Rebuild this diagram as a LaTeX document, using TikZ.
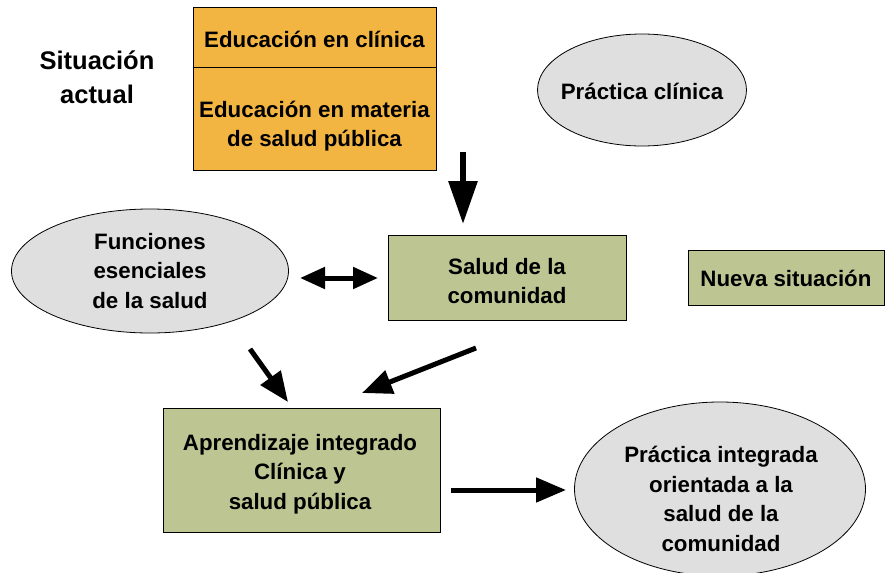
\documentclass[tikz,border=0pt]{standalone}
\usepackage{fontspec}
\setmainfont{Liberation Sans}
\usetikzlibrary{arrows.meta,shapes.geometric}
\definecolor{orangebox}{HTML}{F3B541}
\definecolor{greenbox}{HTML}{BDC593}
\definecolor{grayell}{HTML}{E0DFDF}
\tikzset{
  txt/.style={font=\fontsize{22.3}{29.5}\selectfont\bfseries, align=center, inner sep=0pt},
  greenrect/.style={draw=black, line width=0.8pt, fill=greenbox, inner sep=0pt},
  grayellipse/.style={draw=black, line width=0.8pt, fill=grayell, ellipse, inner sep=0pt},
  bigarrow/.style={line width=6pt, -{Triangle[length=43pt,width=28pt]}},
  midarrow/.style={line width=5pt, -{Triangle[length=30pt,width=24pt]}},
  dblarrow/.style={line width=5pt, {Triangle[length=25pt,width=21pt]}-{Triangle[length=25pt,width=21pt]}},
}
\begin{document}
\begin{tikzpicture}[x=1pt,y=-1pt]
\useasboundingbox (0,0) rectangle (889,573);
% Situacion actual
\node[txt, font=\fontsize{25.5}{34}\selectfont\bfseries] (sit) at (97,77) {Situación\\actual};
% orange box
\node[draw=black, line width=0.8pt, fill=orangebox, minimum width=243pt, minimum height=163pt, inner sep=0pt] (edu) at (314.5,88.5) {};
\draw[line width=0.8pt] (edu.west |- 0,67) coordinate (divl) -- (edu.east |- 0,67) coordinate (divr);
\node[txt] (educ) at (314.5,39) {Educación en clínica};
\node[txt] (edusp) at (314.5,126) {Educación en materia\\de salud pública};
% ellipses
\node[grayellipse, minimum width=209pt, minimum height=112pt] (pc) at (642,90) {};
\node[txt] (pct) at (642,91) {Práctica clínica};
\node[grayellipse, minimum width=277pt, minimum height=124pt] (fes) at (150,271) {};
\node[txt] (fest) at (150,271) {Funciones\\esenciales\\de la salud};
\node[grayellipse, minimum width=291pt, minimum height=174pt] (pi) at (720,489) {};
\node[txt] (pit) at (721,499) {Práctica integrada\\orientada a la\\salud de la\\comunidad};
% green boxes
\node[greenrect, minimum width=238pt, minimum height=85pt] (sc) at (507,277.5) {};
\node[txt] (sct) at (507,281) {Salud de la\\comunidad};
\node[greenrect, minimum width=196pt, minimum height=55pt] (ns) at (786,277.5) {};
\node[txt] (nst) at (786,278.5) {Nueva situación};
\node[greenrect, minimum width=277pt, minimum height=124pt] (ai) at (301.5,470) {};
\node[txt] (ait) at (300,474) {Aprendizaje integrado\\Clínica y\\salud pública};
% arrow coordinates
\coordinate (a1s) at (463,152);
\coordinate (a1e) at (463,224);
\coordinate (a2s) at (300,278);
\coordinate (a2e) at (378,278);
\coordinate (a3s) at (250,349);
\coordinate (a3e) at (288,402);
\coordinate (a4s) at (476,348);
\coordinate (a4e) at (362,393);
\coordinate (a5s) at (451,490);
\coordinate (a5e) at (566,490);
\draw[bigarrow] (a1s) -- (a1e);
\draw[dblarrow] (a2s) -- (a2e);
\draw[midarrow] (a3s) -- (a3e);
\draw[midarrow] (a4s) -- (a4e);
\draw[midarrow] (a5s) -- (a5e);
\end{tikzpicture}
\end{document}
